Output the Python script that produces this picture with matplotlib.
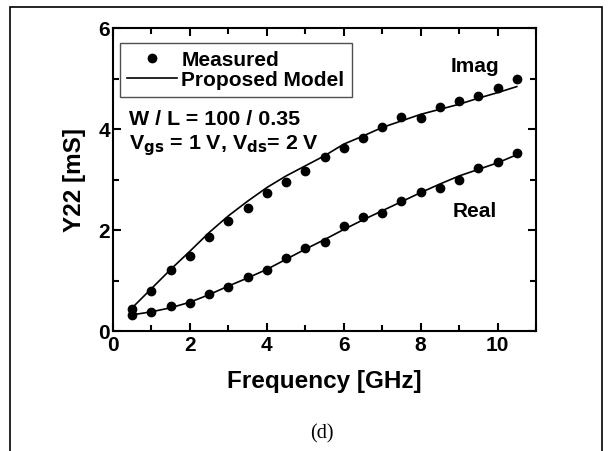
import matplotlib.pyplot as plt
from matplotlib.patches import Rectangle
from matplotlib.ticker import MultipleLocator

# Données (Y22 en mS)
freq = [0.5, 1.0, 1.5, 2.0, 2.5, 3.0, 3.5, 4.0, 4.5, 5.0, 5.5,
        6.0, 6.5, 7.0, 7.5, 8.0, 8.5, 9.0, 9.5, 10.0, 10.5]
imag_mes = [0.43, 0.79, 1.21, 1.49, 1.86, 2.17, 2.44, 2.73, 2.95, 3.17, 3.44,
            3.62, 3.83, 4.03, 4.23, 4.22, 4.43, 4.56, 4.65, 4.82, 5.00]
real_mes = [0.31, 0.38, 0.50, 0.56, 0.73, 0.87, 1.07, 1.21, 1.44, 1.64, 1.77,
            2.07, 2.26, 2.34, 2.57, 2.75, 2.84, 2.99, 3.23, 3.35, 3.52]
imag_mod = [0.46, 0.84, 1.22, 1.58, 1.95, 2.28, 2.57, 2.84, 3.07, 3.27, 3.47,
            3.70, 3.86, 4.03, 4.16, 4.29, 4.39, 4.49, 4.61, 4.72, 4.84]
real_mod = [0.32, 0.38, 0.46, 0.57, 0.72, 0.89, 1.05, 1.22, 1.42, 1.62, 1.81,
            2.01, 2.20, 2.38, 2.56, 2.74, 2.91, 3.07, 3.20, 3.33, 3.49]

plt.rcParams["font.family"] = ["Liberation Sans", "DejaVu Sans"]
plt.rcParams["font.weight"] = "bold"
plt.rcParams["mathtext.default"] = "bf"

fig = plt.figure(figsize=(6.1, 4.52), dpi=100)
ax = fig.add_axes([113 / 610, 120 / 452, 423 / 610, 303 / 452])

ax.plot(freq, imag_mod, color="black", lw=1.2, label="Proposed Model")
ax.plot(freq, real_mod, color="black", lw=1.2)
ax.plot(freq, imag_mes, "o", color="black", ms=6, label="Measured")
ax.plot(freq, real_mes, "o", color="black", ms=6)

ax.set_xlim(0, 11)
ax.set_ylim(0, 6)
ax.xaxis.set_major_locator(MultipleLocator(2))
ax.xaxis.set_minor_locator(MultipleLocator(1))
ax.yaxis.set_major_locator(MultipleLocator(2))
ax.yaxis.set_minor_locator(MultipleLocator(1))
ax.tick_params(which="both", direction="in", top=True, right=True,
               width=1.5, labelsize=15)
ax.tick_params(axis="x", pad=3)
ax.tick_params(axis="y", pad=2)
ax.tick_params(which="major", length=6)
ax.tick_params(which="minor", length=4)
for s in ax.spines.values():
    s.set_linewidth(1.5)

ax.set_xlabel("Frequency [GHz]", fontsize=17.5, fontweight="bold", labelpad=11)
ax.set_ylabel("Y22 [mS]", fontsize=17.5, fontweight="bold", labelpad=9)

handles, labels = ax.get_legend_handles_labels()
leg = ax.legend(handles[::-1], labels[::-1], loc="upper left",
                bbox_to_anchor=(7 / 423, 288 / 303), borderaxespad=0,
                fontsize=15, handlelength=2.4, fancybox=False,
                edgecolor="#505050", borderpad=0.35, labelspacing=0.05,
                handletextpad=0.2, framealpha=1)
leg.get_frame().set_linewidth(1.0)

ax.text(0.42, 4.21, "W / L = 100 / 0.35", fontsize=15.4, fontweight="bold",
        va="center")
ax.text(0.42, 3.69, r"V$_{gs}$ = 1 V, V$_{ds}$= 2 V",
        fontsize=15.4, fontweight="bold", va="center")
ax.text(9.41, 5.25, "Imag", fontsize=15, fontweight="bold", ha="center",
        va="center")
ax.text(9.41, 2.38, "Real", fontsize=15, fontweight="bold", ha="center",
        va="center")

# cadre extérieur et légende de sous-figure
fig.patches.append(Rectangle((10 / 610, -0.01), 592 / 610, 1 - 8 / 452 + 0.01,
                             transform=fig.transFigure, fill=False,
                             edgecolor="black", lw=1.2))
fig.text(322 / 610, 1 - 434 / 452, "(d)", family="Liberation Serif",
         fontweight="normal", fontsize=14.5, ha="center", va="center")

fig.savefig("out.png", dpi=100)
